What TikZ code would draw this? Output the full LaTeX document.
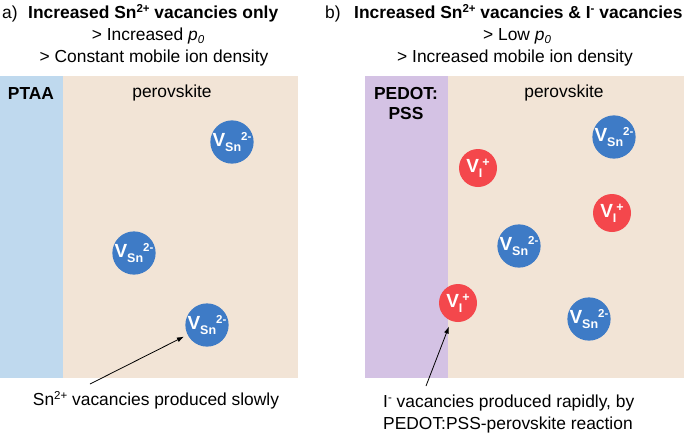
\documentclass[tikz,border=0pt]{standalone}
\usepackage{fontspec}
\setmainfont{Liberation Sans}
\usetikzlibrary{arrows.meta}
\definecolor{ptaa}{HTML}{BFD9EE}
\definecolor{perov}{HTML}{F2E4D6}
\definecolor{pedot}{HTML}{D4C2E4}
\definecolor{vsn}{HTML}{3E7BC6}
\definecolor{vi}{HTML}{F4474C}
\newcommand{\vacSn}{\bfseries\fontsize{19}{19}\selectfont V\raisebox{-4.5pt}{\fontsize{12.5}{12.5}\selectfont Sn}\raisebox{6.5pt}{\fontsize{11.5}{11.5}\selectfont 2-}}
\newcommand{\vacI}{\bfseries\fontsize{19}{19}\selectfont V\raisebox{-4.5pt}{\fontsize{12.5}{12.5}\selectfont I}\raisebox{6.5pt}{\fontsize{12.5}{12.5}\selectfont +}}
\newcommand{\supx}[1]{\raisebox{6pt}{\fontsize{11.5}{11.5}\selectfont #1}}
\begin{document}
\begin{tikzpicture}[x=1pt,y=-1pt,
  txt/.style={inner sep=0pt,font=\fontsize{17.4}{22}\selectfont},
  btxt/.style={inner sep=0pt,font=\fontsize{17.4}{22}\selectfont\bfseries},
  sncirc/.style={circle,fill=vsn,text=white,minimum size=38pt,inner sep=0pt},
  icirc/.style={circle,fill=vi,text=white,minimum size=38pt,inner sep=0pt},
  arr/.style={-{Latex[length=7pt,width=5pt]},line width=0.8pt}]
\useasboundingbox (0,0) rectangle (685,432);
% layers
\fill[ptaa] (0,76) rectangle (63,378);
\fill[perov] (63,76) rectangle (298,378);
\fill[pedot] (365,76) rectangle (448,378);
\fill[perov] (448,76) rectangle (684,378);
% titles
\node[txt,anchor=base west] (la) at (2,18) {a)};
\node[btxt,anchor=base west] (ta) at (28,18) {Increased Sn\supx{2+} vacancies only};
\node[txt,anchor=base] (ta2) at (148,40) {> Increased \textit{p}\raisebox{-3pt}{\fontsize{11.5}{11.5}\selectfont\textit{0}}};
\node[txt,anchor=base] (ta3) at (154,62) {> Constant mobile ion density};
\node[txt,anchor=base west] (lb) at (325,18) {b)};
\node[btxt,anchor=base west] (tb) at (354,18) {Increased Sn\supx{2+} vacancies \& I\supx{-} vacancies};
\node[txt,anchor=base] (tb2) at (517,40) {> Low \textit{p}\raisebox{-3pt}{\fontsize{11.5}{11.5}\selectfont\textit{0}}};
\node[txt,anchor=base] (tb3) at (515,62) {> Increased mobile ion density};
% layer labels
\node[btxt,anchor=base] (ptaa) at (31,99) {PTAA};
\node[txt,anchor=base] (pa) at (172,97) {perovskite};
\node[btxt,anchor=base] (pedot1) at (406,99) {PEDOT:};
\node[btxt,anchor=base] (pedot2) at (406,119) {PSS};
\node[txt,anchor=base] (pb) at (564,97) {perovskite};
% vacancies a
\node[sncirc] (a1) at (232,142) {\vacSn};
\node[sncirc] (a2) at (134,253) {\vacSn};
\node[sncirc] (a3) at (207,325) {\vacSn};
% vacancies b
\node[sncirc] (b1) at (614,137) {\vacSn};
\node[icirc] (b2) at (478,168) {\vacI};
\node[icirc] (b3) at (612,213) {\vacI};
\node[sncirc] (b4) at (519,246) {\vacSn};
\node[icirc] (b5) at (458,303) {\vacI};
\node[sncirc] (b6) at (589,319) {\vacSn};
% bottom texts
\node[txt,anchor=base] (ca) at (156,405) {Sn\supx{2+} vacancies produced slowly};
\node[txt,anchor=base west] (cb1) at (383,407) {I\supx{-} vacancies produced rapidly, by};
\node[txt,anchor=base west] (cb2) at (383,429) {PEDOT:PSS-perovskite reaction};
% arrows
\coordinate (tailA) at (90,384);
\coordinate (tailB) at (426,386);
\draw[arr,shorten >=4pt] (tailA) -- (a3);
\draw[arr,shorten >=6pt] (tailB) -- (b5);
\end{tikzpicture}
\end{document}
